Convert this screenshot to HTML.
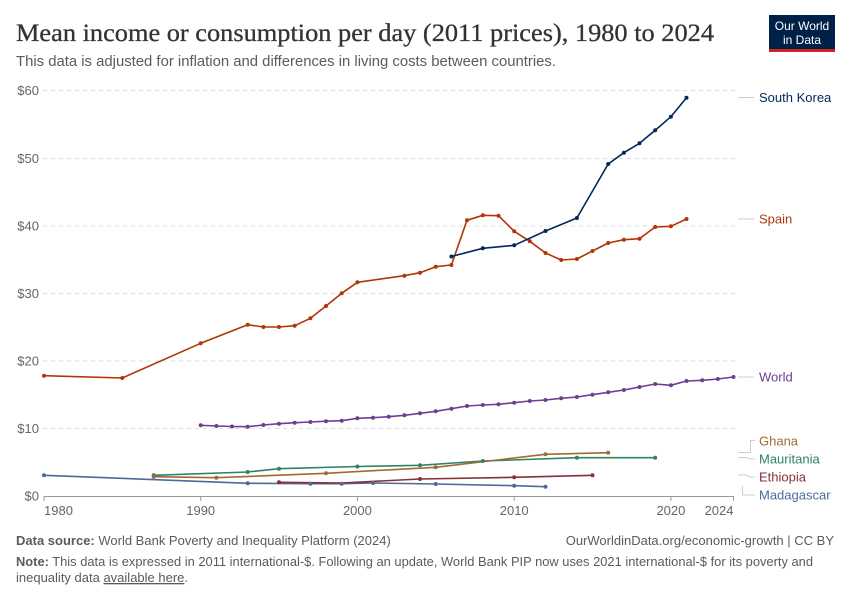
<!DOCTYPE html>
<html><head><meta charset="utf-8"><style>
html,body{margin:0;padding:0;background:#fff;}
svg{display:block;font-family:"Liberation Sans",sans-serif;}
</style></head><body>
<svg width="850" height="600" viewBox="0 0 850 600" xmlns="http://www.w3.org/2000/svg">
<rect width="850" height="600" fill="#fff"/>
<!-- header -->
<text x="16" y="41" font-family="Liberation Serif, serif" font-size="25" fill="#333" stroke="#333" stroke-width="0.3" textLength="698" lengthAdjust="spacingAndGlyphs">Mean income or consumption per day (2011 prices), 1980 to 2024</text>
<text x="16" y="66" font-size="14.5" fill="#5b5b5b" textLength="540" lengthAdjust="spacingAndGlyphs">This data is adjusted for inflation and differences in living costs between countries.</text>
<rect x="769" y="15" width="66" height="37" fill="#002147"/>
<rect x="769" y="49" width="66" height="3" fill="#ce261e"/>
<text x="802" y="30" font-size="12" fill="#fff" text-anchor="middle">Our World</text>
<text x="802" y="44" font-size="12" fill="#fff" text-anchor="middle">in Data</text>

<!-- grid -->
<g stroke="#dddddd" stroke-width="1" stroke-dasharray="4,4">
<line x1="43" y1="90.5" x2="735" y2="90.5"/>
<line x1="43" y1="158.5" x2="735" y2="158.5"/>
<line x1="43" y1="226" x2="735" y2="226"/>
<line x1="43" y1="293.5" x2="735" y2="293.5"/>
<line x1="43" y1="361" x2="735" y2="361"/>
<line x1="43" y1="428.5" x2="735" y2="428.5"/>
</g>
<g font-size="13" fill="#666" text-anchor="end">
<text x="39" y="95">$60</text>
<text x="39" y="163">$50</text>
<text x="39" y="230.5">$40</text>
<text x="39" y="298">$30</text>
<text x="39" y="365.5">$20</text>
<text x="39" y="433">$10</text>
<text x="39" y="500.5">$0</text>
</g>
<!-- x axis -->
<line x1="44" y1="496.5" x2="733.5" y2="496.5" stroke="#999" stroke-width="1"/>
<g stroke="#999" stroke-width="1">
<line x1="44" y1="496" x2="44" y2="501"/>
<line x1="200.7" y1="496" x2="200.7" y2="501"/>
<line x1="357.4" y1="496" x2="357.4" y2="501"/>
<line x1="514.2" y1="496" x2="514.2" y2="501"/>
<line x1="670.9" y1="496" x2="670.9" y2="501"/>
<line x1="733.5" y1="496" x2="733.5" y2="501"/>
</g>
<g font-size="13" fill="#666" text-anchor="middle">
<text x="44" y="515" text-anchor="start">1980</text>
<text x="200.7" y="515">1990</text>
<text x="357.4" y="515">2000</text>
<text x="514.2" y="515">2010</text>
<text x="670.9" y="515">2020</text>
<text x="733.5" y="515" text-anchor="end">2024</text>
</g>

<!-- series -->
<g fill="none" stroke-width="1.6" stroke-linejoin="round">
<polyline stroke="#4C6A9C" points="44,475.3 247.7,483.3 310.4,483.7 341.7,483.7 373,483 435.7,484 514.2,485.7 545.5,486.7"/>
<polyline stroke="#883039" points="279,482.3 341.7,483 420,479 514.2,477.3 592.5,475.3"/>
<polyline stroke="#2C8465" points="153.7,475.3 247.7,472 279,468.7 357.4,466.5 420,465.3 482.8,461 576.9,457.7 655.2,457.7"/>
<polyline stroke="#A26B32" points="153.7,476.7 216.4,477.7 326,473.3 435.7,467.3 545.5,454.3 608.2,452.7"/>
<polyline stroke="#6D3E91" points="200.7,425.3 216.4,426 232,426.5 247.7,426.7 263.4,425 279,423.7 294.7,422.7 310.4,422 326,421.2 341.7,420.7 357.4,418.3 373,417.7 388.7,416.7 404.4,415.3 420,413.3 435.7,411.3 451.4,408.7 467,406 482.8,405 498.5,404.3 514.2,402.7 529.8,401 545.5,400 561.2,398.3 576.9,397 592.5,394.7 608.2,392.3 623.9,390 639.5,387 655.2,384 670.9,385.3 686.5,381 702.2,380.3 717.9,379 733.5,377"/>
<polyline stroke="#B13507" points="44,375.7 122.3,378 200.7,343.3 247.7,324.7 263.4,327 279,327 294.7,325.7 310.4,318.3 326,306 341.7,293.3 357.4,282.3 404.4,275.7 420,272.7 435.7,266.7 451.4,265 467,220.3 482.8,215.3 498.5,215.7 514.2,231.3 529.8,241.3 545.5,253 561.2,260 576.9,259 592.5,251 608.2,243 623.9,239.7 639.5,238.7 655.2,227 670.9,226.3 686.5,219"/>
<polyline stroke="#00295B" points="451.4,256.5 482.8,248.3 514.2,245.3 545.5,231 576.9,218 608.2,164 623.9,152.7 639.5,143.3 655.2,130.3 670.9,116.7 686.5,97.7"/>
</g>
<!-- markers -->
<g fill="#4C6A9C"><circle cx="44" cy="475.3" r="2"/><circle cx="247.7" cy="483.3" r="2"/><circle cx="310.4" cy="483.7" r="2"/><circle cx="341.7" cy="483.7" r="2"/><circle cx="373" cy="483" r="2"/><circle cx="435.7" cy="484" r="2"/><circle cx="514.2" cy="485.7" r="2"/><circle cx="545.5" cy="486.7" r="2"/></g>
<g fill="#883039"><circle cx="279" cy="482.3" r="2"/><circle cx="420" cy="479" r="2"/><circle cx="514.2" cy="477.3" r="2"/><circle cx="592.5" cy="475.3" r="2"/></g>
<g fill="#2C8465"><circle cx="153.7" cy="475.3" r="2"/><circle cx="247.7" cy="472" r="2"/><circle cx="279" cy="468.7" r="2"/><circle cx="357.4" cy="466.5" r="2"/><circle cx="420" cy="465.3" r="2"/><circle cx="482.8" cy="461" r="2"/><circle cx="576.9" cy="457.7" r="2"/><circle cx="655.2" cy="457.7" r="2"/></g>
<g fill="#A26B32"><circle cx="153.7" cy="476.7" r="2"/><circle cx="216.4" cy="477.7" r="2"/><circle cx="326" cy="473.3" r="2"/><circle cx="435.7" cy="467.3" r="2"/><circle cx="545.5" cy="454.3" r="2"/><circle cx="608.2" cy="452.7" r="2"/></g>
<g fill="#6D3E91"><circle cx="200.7" cy="425.3" r="2"/><circle cx="216.4" cy="426" r="2"/><circle cx="232" cy="426.5" r="2"/><circle cx="247.7" cy="426.7" r="2"/><circle cx="263.4" cy="425" r="2"/><circle cx="279" cy="423.7" r="2"/><circle cx="294.7" cy="422.7" r="2"/><circle cx="310.4" cy="422" r="2"/><circle cx="326" cy="421.2" r="2"/><circle cx="341.7" cy="420.7" r="2"/><circle cx="357.4" cy="418.3" r="2"/><circle cx="373" cy="417.7" r="2"/><circle cx="388.7" cy="416.7" r="2"/><circle cx="404.4" cy="415.3" r="2"/><circle cx="420" cy="413.3" r="2"/><circle cx="435.7" cy="411.3" r="2"/><circle cx="451.4" cy="408.7" r="2"/><circle cx="467" cy="406" r="2"/><circle cx="482.8" cy="405" r="2"/><circle cx="498.5" cy="404.3" r="2"/><circle cx="514.2" cy="402.7" r="2"/><circle cx="529.8" cy="401" r="2"/><circle cx="545.5" cy="400" r="2"/><circle cx="561.2" cy="398.3" r="2"/><circle cx="576.9" cy="397" r="2"/><circle cx="592.5" cy="394.7" r="2"/><circle cx="608.2" cy="392.3" r="2"/><circle cx="623.9" cy="390" r="2"/><circle cx="639.5" cy="387" r="2"/><circle cx="655.2" cy="384" r="2"/><circle cx="670.9" cy="385.3" r="2"/><circle cx="686.5" cy="381" r="2"/><circle cx="702.2" cy="380.3" r="2"/><circle cx="717.9" cy="379" r="2"/><circle cx="733.5" cy="377" r="2"/></g>
<g fill="#B13507"><circle cx="44" cy="375.7" r="2"/><circle cx="122.3" cy="378" r="2"/><circle cx="200.7" cy="343.3" r="2"/><circle cx="247.7" cy="324.7" r="2"/><circle cx="263.4" cy="327" r="2"/><circle cx="279" cy="327" r="2"/><circle cx="294.7" cy="325.7" r="2"/><circle cx="310.4" cy="318.3" r="2"/><circle cx="326" cy="306" r="2"/><circle cx="341.7" cy="293.3" r="2"/><circle cx="357.4" cy="282.3" r="2"/><circle cx="404.4" cy="275.7" r="2"/><circle cx="420" cy="272.7" r="2"/><circle cx="435.7" cy="266.7" r="2"/><circle cx="451.4" cy="265" r="2"/><circle cx="467" cy="220.3" r="2"/><circle cx="482.8" cy="215.3" r="2"/><circle cx="498.5" cy="215.7" r="2"/><circle cx="514.2" cy="231.3" r="2"/><circle cx="529.8" cy="241.3" r="2"/><circle cx="545.5" cy="253" r="2"/><circle cx="561.2" cy="260" r="2"/><circle cx="576.9" cy="259" r="2"/><circle cx="592.5" cy="251" r="2"/><circle cx="608.2" cy="243" r="2"/><circle cx="623.9" cy="239.7" r="2"/><circle cx="639.5" cy="238.7" r="2"/><circle cx="655.2" cy="227" r="2"/><circle cx="670.9" cy="226.3" r="2"/><circle cx="686.5" cy="219" r="2"/></g>
<g fill="#00295B"><circle cx="451.4" cy="256.5" r="2"/><circle cx="482.8" cy="248.3" r="2"/><circle cx="514.2" cy="245.3" r="2"/><circle cx="545.5" cy="231" r="2"/><circle cx="576.9" cy="218" r="2"/><circle cx="608.2" cy="164" r="2"/><circle cx="623.9" cy="152.7" r="2"/><circle cx="639.5" cy="143.3" r="2"/><circle cx="655.2" cy="130.3" r="2"/><circle cx="670.9" cy="116.7" r="2"/><circle cx="686.5" cy="97.7" r="2"/></g>

<!-- legend connectors -->
<g fill="none" stroke="#ccc" stroke-width="1">
<line x1="738" y1="97.5" x2="754" y2="97.5"/>
<line x1="738" y1="219" x2="754" y2="219"/>
<line x1="738" y1="377" x2="754" y2="377"/>
<polyline points="738,452.5 750.5,452.5 750.5,440.5 755,440.5"/>
<polyline points="738,457.5 746,457.5 750,459 755,459"/>
<polyline points="738,475 746,475 750,477 755,477"/>
<polyline points="742.5,486 742.5,495 755,495"/>
</g>
<g font-size="13">
<text x="759" y="102" fill="#00295B">South Korea</text>
<text x="759" y="223.5" fill="#B13507">Spain</text>
<text x="759" y="381.5" fill="#6D3E91">World</text>
<text x="759" y="445.5" fill="#A26B32">Ghana</text>
<text x="759" y="463.5" fill="#2C8465">Mauritania</text>
<text x="759" y="481.5" fill="#883039">Ethiopia</text>
<text x="759" y="499.5" fill="#4C6A9C">Madagascar</text>
</g>

<!-- footer -->
<g font-size="13" fill="#5b5b5b">
<text x="16" y="545"><tspan font-weight="bold">Data source:</tspan> World Bank Poverty and Inequality Platform (2024)</text>
<text x="834" y="545" text-anchor="end">OurWorldinData.org/economic-growth | CC BY</text>
<text x="16" y="566" textLength="797" lengthAdjust="spacingAndGlyphs"><tspan font-weight="bold">Note:</tspan> This data is expressed in 2011 international-$. Following an update, World Bank PIP now uses 2021 international-$ for its poverty and</text>
<text x="16" y="582">inequality data <tspan text-decoration="underline">available here</tspan>.</text>
</g>
</svg>
</body></html>
